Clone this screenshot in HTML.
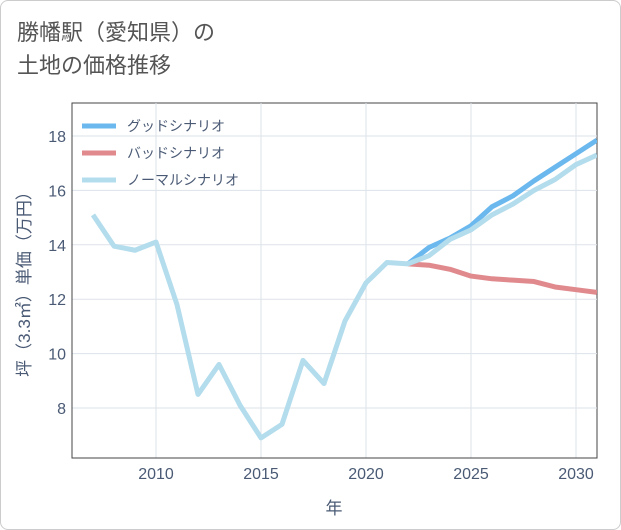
<!DOCTYPE html>
<html><head><meta charset="utf-8"><style>
body{margin:0;background:#fff;font-family:"Liberation Sans","Noto Sans CJK JP",sans-serif;}
#wrap{position:relative;width:619px;height:528px;border:1px solid #ccc;border-radius:8px;background:#fff;}
#title{position:absolute;left:16px;top:15px;font-size:22px;line-height:33px;color:#555;}
</style></head><body>
<div id="wrap">
<div id="title">勝幡駅（愛知県）の<br>土地の価格推移</div>
<svg id="chart" width="621" height="530" style="position:absolute;left:-1px;top:-1px"></svg>
</div>
<script>
const years=[2007,2008,2009,2010,2011,2012,2013,2014,2015,2016,2017,2018,2019,2020,2021,2022,2023,2024,2025,2026,2027,2028,2029,2030,2031];
const normalVals=[15.1,13.95,13.8,14.1,11.8,8.5,9.6,8.1,6.9,7.4,9.75,8.9,11.2,12.6,13.35,13.3,13.6,14.2,14.55,15.1,15.5,16.0,16.4,16.95,17.3];
const goodYears=[2022,2023,2024,2025,2026,2027,2028,2029,2030,2031];
const goodVals=[13.3,13.9,14.25,14.7,15.4,15.8,16.35,16.85,17.35,17.85];
const badVals=[13.3,13.25,13.1,12.85,12.75,12.7,12.65,12.45,12.35,12.25];
const xTicks=[2010,2015,2020,2025,2030];
const yTicks=[8,10,12,14,16,18];
const legendLabels=["グッドシナリオ","バッドシナリオ","ノーマルシナリオ"];
const colors=["#6bb8ee","#e08a8e","#b3dcec"];
const ns="http://www.w3.org/2000/svg";
const svg=document.getElementById('chart');
const L=72,R=597,T=103,B=458;
const x=v=>156+(v-2010)*21;
const y=v=>408-(v-8)*27.2;
function el(t,a,p){const e=document.createElementNS(ns,t);for(const k in a)e.setAttribute(k,a[k]);(p||svg).appendChild(e);return e;}
const bg=el('rect',{x:L,y:T,width:R-L,height:B-T,fill:'#fff',stroke:'#444','stroke-width':1});


xTicks.forEach(v=>{const g=el('line',{x1:x(v),x2:x(v),y1:T,y2:B,stroke:'#dde3ea'});


const t=el('text',{x:x(v),y:479,'text-anchor':'middle','font-size':16,fill:'#4a5a75'});t.textContent=v;

});
yTicks.forEach(v=>{const g=el('line',{x1:L,x2:R,y1:y(v),y2:y(v),stroke:'#dde3ea'});


const t=el('text',{x:66,y:y(v)+6,'text-anchor':'end','font-size':16,fill:'#4a5a75'});t.textContent=v;

});
el('line',{x1:L,x2:L,y1:T,y2:B,stroke:'#444'});
el('line',{x1:L,x2:R,y1:B,y2:B,stroke:'#444'});
const clip=el('clipPath',{id:'c'});el('rect',{x:L,y:T,width:R-L,height:B-T},clip);
function series(xs,vs,c,name){const p=el('polyline',{points:xs.map((v,i)=>x(v)+','+y(vs[i])).join(' '),fill:'none',stroke:c,'stroke-width':5,'stroke-linejoin':'round','clip-path':'url(#c)'});

}
series(goodYears,goodVals,colors[0],'good-scenario-line');
series(goodYears,badVals,colors[1],'bad-scenario-line');
series(years,normalVals,colors[2],'normal-scenario-line');
legendLabels.forEach((s,i)=>{const yy=126+i*27;
const l=el('line',{x1:82,x2:116,y1:yy,y2:yy,stroke:colors[i],'stroke-width':5});


const t=el('text',{x:127,y:yy+5,'font-size':14,fill:'#4a5a75'});t.textContent=s;

});
const xt=el('text',{x:334,y:514,'text-anchor':'middle','font-size':17,fill:'#4a5a75'});xt.textContent='年';


const yt=el('text',{x:0,y:0,'text-anchor':'middle','font-size':17,fill:'#4a5a75',transform:'translate(30,280) rotate(-90)'});yt.textContent='坪（3.3㎡）単価（万円）';


</script>
</body></html>
